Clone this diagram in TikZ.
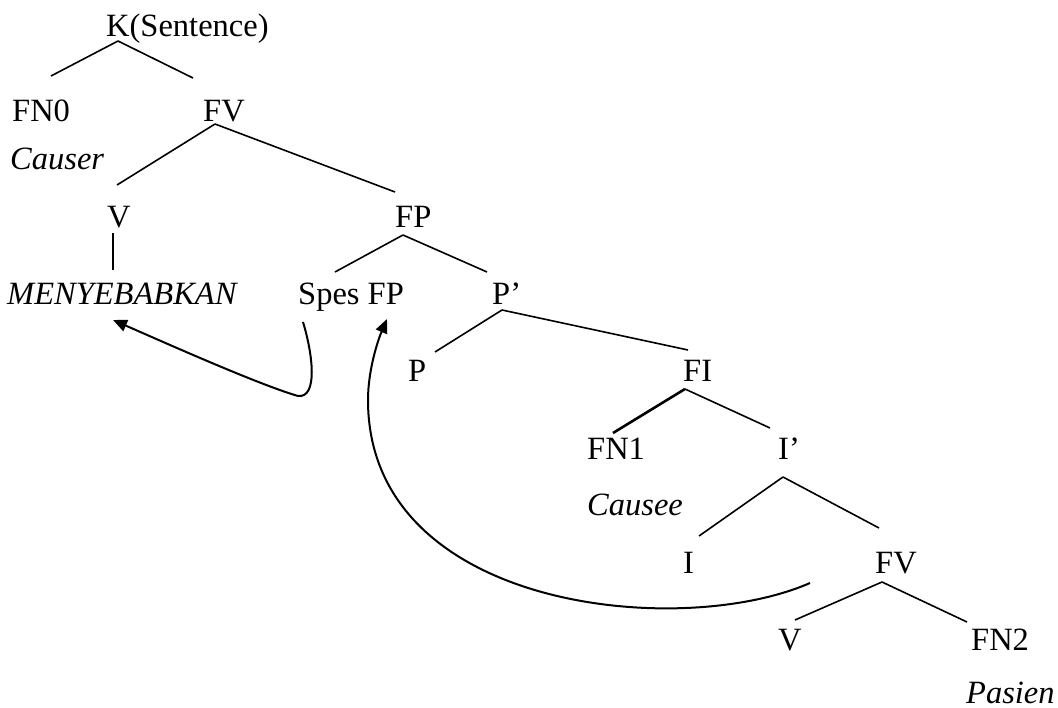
\documentclass[tikz,border=0pt]{standalone}
\usepackage{fontspec}
\setmainfont{Liberation Serif}
\usetikzlibrary{arrows.meta}

% edge from one label to another; offsets are measured from each label's base west
\newcommand\treeedge[5][]{%
  \draw[branch,#1] ([shift={(#3)}]#2.base west) -- ([shift={(#5)}]#4.base west);}

\begin{document}
\begin{tikzpicture}[x=1pt,y=-1pt,
  lab/.style={anchor=base west,inner sep=0pt,font=\fontsize{32.5}{38}\selectfont},
  role/.style={lab,font=\fontsize{32.5}{38}\selectfont\itshape},
  branch/.style={line width=1.6pt},
  move/.style={line width=2pt,-{Triangle[length=14pt,width=12pt]}}]
\useasboundingbox (0,0) rectangle (1058,708);

% category labels
\node[lab]  (K)      at (106,37)  {K(Sentence)};
\node[lab]  (FNo)    at (12,122)  {FN0};
\node[lab]  (FVa)    at (203,122) {FV};
\node[role] (causer) at (10,170)  {Causer};
\node[lab]  (Va)     at (107,228) {V};
\node[lab]  (FP)     at (395,228) {FP};
\node[role] (meny)   at (7,305)   {MENYEBABKAN};
\node[lab]  (spes)   at (298,305) {Spes FP};
\node[lab]  (Pbar)   at (492,305) {P’};
\node[lab]  (P)      at (408,382) {P};
\node[lab]  (FI)     at (683,382) {FI};
\node[lab]  (FN1)    at (587,460) {FN1};
\node[lab]  (Ibar)   at (778,460) {I’};
\node[role] (causee) at (587,515) {Causee};
\node[lab]  (I)      at (683,573) {I};
\node[lab]  (FVb)    at (875,573) {FV};
\node[lab]  (Vb)     at (778,650) {V};
\node[lab]  (FN2)    at (971,650) {FN2};
\node[role] (pasien) at (966,703) {Pasien};

% branches
\treeedge{K}{12,4}{FNo}{39,-46}
\treeedge{K}{12,4}{FVa}{-10,-44}
\treeedge{FVa}{12,2}{Va}{10,-43}
\treeedge{FVa}{12,2}{FP}{0,-36}
\treeedge{Va}{6,5}{meny}{106,-35}
\treeedge{FP}{8,7}{spes}{37,-33}
\treeedge{FP}{8,7}{Pbar}{-5,-33}
\treeedge{Pbar}{10,5}{P}{27,-30}
\treeedge{Pbar}{10,5}{FI}{5,-32}
\treeedge[line width=2.6pt]{FI}{2,7}{FN1}{26,-27}
\treeedge{FI}{2,7}{Ibar}{-8,-32}
\treeedge{Ibar}{5,17}{I}{16,-37}
\treeedge{Ibar}{5,17}{FVb}{4,-45}
\treeedge{FVb}{7,9}{Vb}{17,-30}
\treeedge{FVb}{7,9}{FN2}{-4,-28}

% movement arrows
\draw[move] ([shift={(5,17)}]spes.base west)
  .. controls (313,355) and (318,398) .. (298,396)
  .. controls (260,385) and (170,345) .. ([shift={(106,15)}]meny.base west);
\draw[move] ([shift={(-65,10)}]FVb.base west)
  .. controls (680,640) and (368,610) .. (368,400)
  .. controls (368,370) and (378,340) .. ([shift={(89,14)}]spes.base west);
\end{tikzpicture}
\end{document}
